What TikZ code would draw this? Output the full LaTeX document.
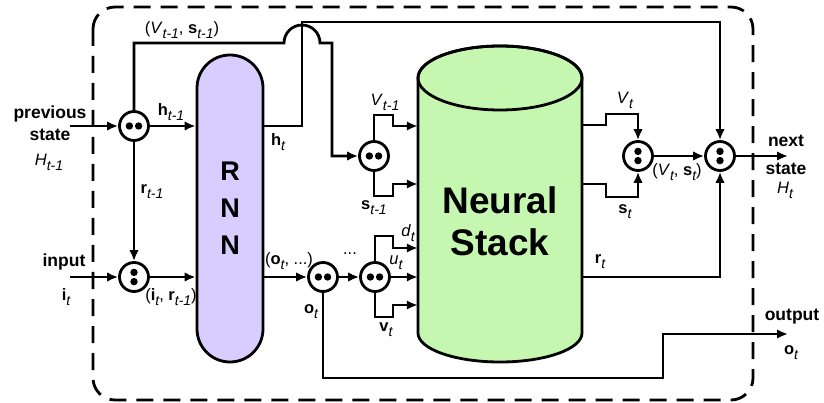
\documentclass[tikz,border=0pt]{standalone}
\usepackage{fontspec}
\setmainfont{Liberation Sans}
\usetikzlibrary{arrows.meta}
\definecolor{rnnfill}{RGB}{217,204,255}
\definecolor{stkfill}{RGB}{198,247,176}
\newcommand{\sbt}[1]{\raisebox{-5pt}{\fontsize{14}{15}\selectfont\itshape #1}}
\tikzset{every node/.style={inner sep=0pt}}
\tikzset{j/.style={circle,draw,line width=2.8pt,minimum size=29pt,fill=white}}
\tikzset{hd/.style={j,path picture={\fill[black] ([xshift=-4.6pt]path picture bounding box.center) circle (3.7pt) ([xshift=4.6pt]path picture bounding box.center) circle (3.7pt);}}}
\tikzset{vd/.style={j,path picture={\fill[black] ([yshift=-4.6pt]path picture bounding box.center) circle (3.7pt) ([yshift=4.6pt]path picture bounding box.center) circle (3.7pt);}}}
\tikzset{l/.style={font=\fontsize{16.5}{18}\selectfont}}
\tikzset{big/.style={font=\fontsize{17.5}{22}\selectfont\bfseries,align=center}}
\tikzset{w/.style={line width=2.8pt}}
\tikzset{a/.style={w,-{Latex[length=11pt,width=9.5pt]}}}

\begin{document}
\begin{tikzpicture}[x=1pt,y=-1pt]
  \useasboundingbox (0,0) rectangle (824,403);
  % outer cell
  \draw[w,dash pattern=on 17pt off 10pt,rounded corners=22pt] (93,7) rectangle (753,400);
  % rnn and stack
  \node[draw,w,fill=rnnfill,rounded corners=33pt,minimum width=66pt,minimum height=307pt,
        font=\fontsize{27}{37}\selectfont\bfseries,align=center] (RNN) at (230,208.5) {R\\N\\N};
  \draw[w,fill=stkfill] (418,78) -- (418,333) arc[start angle=180,end angle=0,x radius=82,y radius=29]
        -- (582,78) arc[start angle=0,end angle=-180,x radius=82,y radius=32] -- cycle;
  \draw[w] (500,78) ellipse [x radius=82,y radius=32];
  \node[minimum width=164pt,minimum height=255pt,font=\fontsize{37}{42}\selectfont\bfseries,align=center]
        (S) at (500,221) {Neural\\Stack};
  % joins
  \node[hd] (P) at (134,126) {};
  \node[vd] (I) at (134,277) {};
  \node[hd] (C) at (374,156) {};
  \node[hd] (O) at (323,277) {};
  \node[hd] (D) at (375,277) {};
  \node[vd] (R) at (638,156) {};
  \node[vd] (N) at (720,156) {};
  \coordinate (pin) at (70,126);
  \coordinate (iin) at (70,277);
  \coordinate (nout) at (788,156);
  \coordinate (oout) at (788,334);
  % wires
  \draw[a] (pin) -- (P);
  \draw[a] (iin) -- (I);
  \draw[a] (P) -- (RNN.west |- P);
  \draw[a] (P) -- (I);
  \draw[a] (I) -- (RNN.west |- I);
  \draw[a] (P) |- (284,43) arc[start angle=180,end angle=360,radius=18] -- (332,43) |- (C);
  \draw[a] (RNN.east |- P) -| (302,22) -| (N);
  \draw[a] (RNN.east |- O) -- (O);
  \draw[a] (O) -- (D);
  \draw[a] (O) |- (663,378) |- (oout);
  \draw[a] (C) |- (393,115) |- (S.west |- 0,126);
  \draw[a] (C) |- (393,196) |- (S.west |- 0,184);
  \draw[a] (D) |- (393,236) |- (S.west |- 0,248);
  \draw[a] (D) -- (S.west |- D);
  \draw[a] (D) |- (393,317) |- (S.west |- 0,305);
  \draw[a] (S.east |- 0,125) -| (606,114) -| (R);
  \draw[a] (S.east |- 0,184) -| (606,197) -| (R);
  \draw[a] (R) -- (N);
  \draw[a] (S.east |- 0,277) -| (N);
  \draw[a] (N) -- (nout);
  % labels
  \node[l] (lv1) at (182,30) {(\textit{V}\sbt{t-1}, \textbf{s}\sbt{t-1})};
  \node[l] (lh1) at (171,112) {\textbf{h}\sbt{t-1}};
  \node[l] (lht) at (278,142) {\textbf{h}\sbt{t}};
  \node[l] (lr1) at (152,192) {\textbf{r}\sbt{t-1}};
  \node[l] (lir) at (171,297) {(\textbf{i}\sbt{t}, \textbf{r}\sbt{t-1})};
  \node[l] (lo) at (289,261) {(\textbf{o}\sbt{t}, ...)};
  \node[l] (ldots) at (350,254) {...};
  \node[l] (lot) at (311,312) {\textbf{o}\sbt{t}};
  \node[l] (lV1) at (385,102) {\textit{V}\sbt{t-1}};
  \node[l] (ls1) at (374,208) {\textbf{s}\sbt{t-1}};
  \node[l] (ld) at (408,233) {\textit{d}\sbt{t}};
  \node[l] (lu) at (396,263) {\textit{u}\sbt{t}};
  \node[l] (lvt) at (386,330) {\textbf{v}\sbt{t}};
  \node[l] (lVt) at (625,100) {\textit{V}\sbt{t}};
  \node[l] (lst) at (625,212) {\textbf{s}\sbt{t}};
  \node[l] (lVs) at (677,172) {(\textit{V}\sbt{t}, \textbf{s}\sbt{t})};
  \node[l] (lrt) at (600,262) {\textbf{r}\sbt{t}};
  \node[big] (tprev) at (50,123) {previous\\state};
  \node[l] (tH1) at (49,162) {\textit{H}\sbt{t-1}};
  \node[big] (tin) at (64,262) {input};
  \node[l] (ti) at (66,297) {\textbf{i}\sbt{t}};
  \node[big] (tnext) at (786,141) {next};
  \node[big] (tstate) at (786,169) {state};
  \node[l] (tHt) at (785,190) {\textit{H}\sbt{t}};
  \node[big] (tout) at (792,317) {output};
  \node[l] (to) at (791,353) {\textbf{o}\sbt{t}};
\end{tikzpicture}
\end{document}
